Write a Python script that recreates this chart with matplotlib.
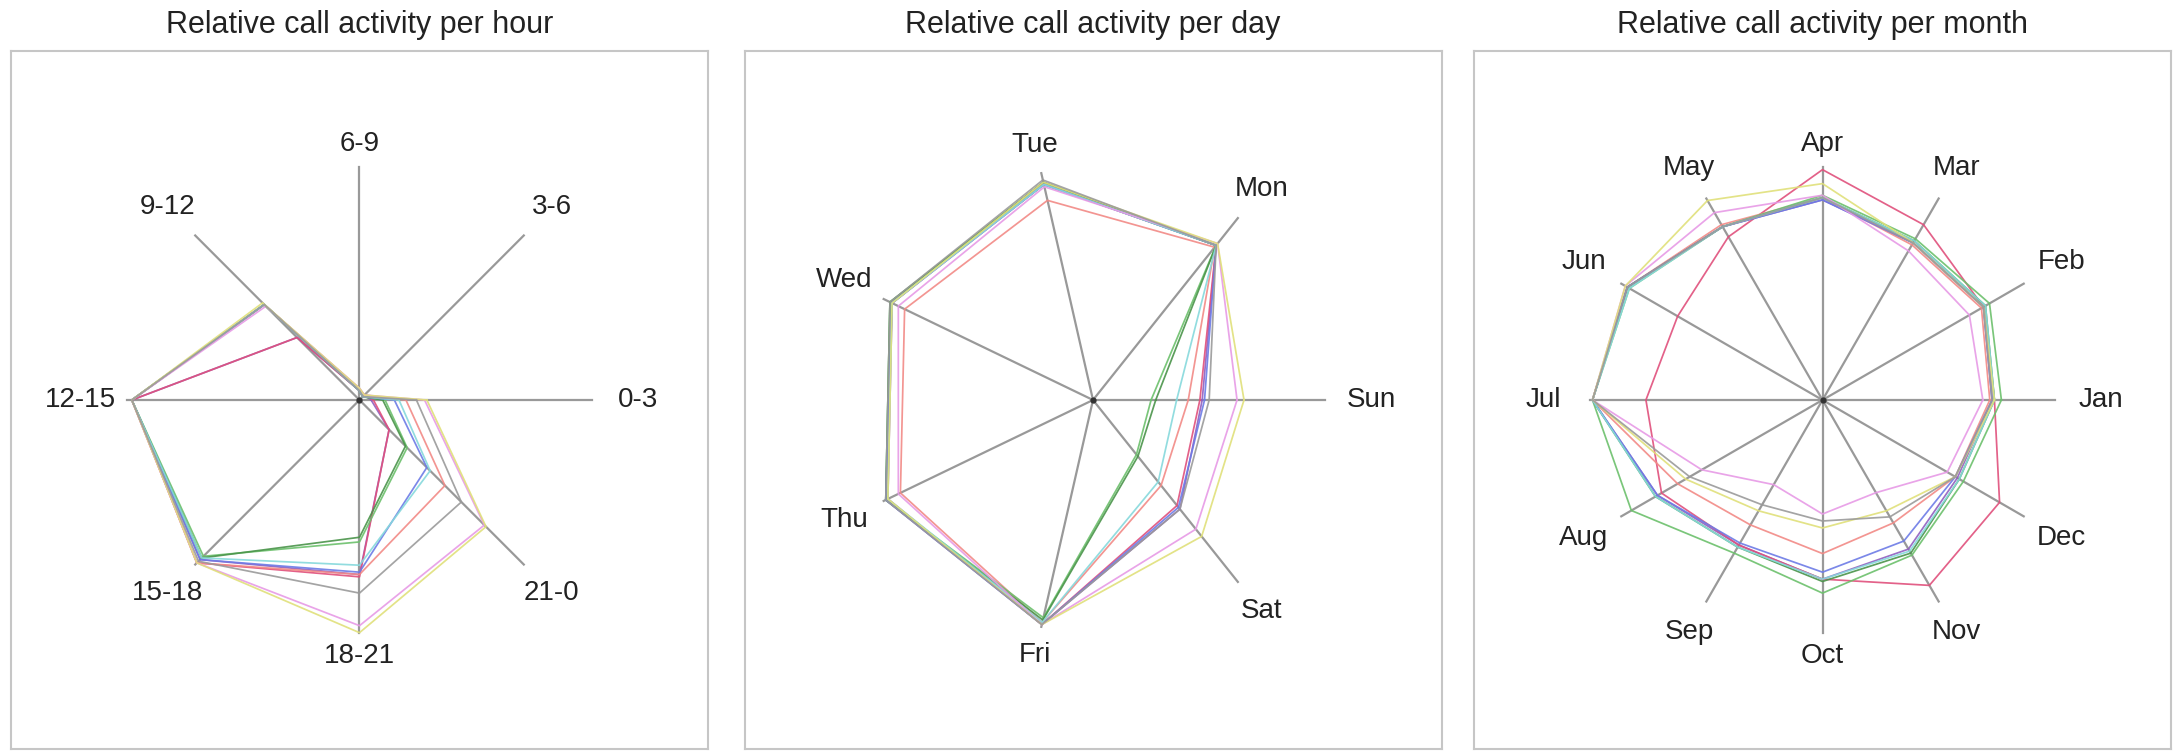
import matplotlib.pyplot as plt
import numpy as np

plt.rcParams['font.family'] = ['Liberation Sans', 'DejaVu Sans']

# axis labels (counter-clockwise, starting at the right)
hour_labels = ['0-3', '3-6', '6-9', '9-12', '12-15', '15-18', '18-21', '21-0']
day_labels = ['Sun', 'Mon', 'Tue', 'Wed', 'Thu', 'Fri', 'Sat']
month_labels = ['Jan', 'Feb', 'Mar', 'Apr', 'May', 'Jun',
                'Jul', 'Aug', 'Sep', 'Oct', 'Nov', 'Dec']

# one colour per series (same order in every chart)
series_colors = ['#9060c0', '#e0507c', '#f28a86', '#6cc06c', '#4a944a',
                 '#6d7be6', '#86d9dc', '#e79ae6', '#e0e07a', '#9a9a9a']

# relative activity, series x axis
hour_values = [
    [0.05, 0.03, 0.04, 0.38, 0.98, 0.97, 0.75, 0.18],
    [0.06, 0.03, 0.04, 0.38, 0.98, 0.99, 0.76, 0.18],
    [0.20, 0.03, 0.05, 0.58, 0.98, 0.99, 0.75, 0.52],
    [0.11, 0.02, 0.04, 0.58, 0.98, 0.95, 0.61, 0.29],
    [0.10, 0.02, 0.04, 0.58, 0.98, 0.96, 0.59, 0.28],
    [0.15, 0.02, 0.04, 0.58, 0.98, 0.97, 0.74, 0.41],
    [0.17, 0.02, 0.04, 0.58, 0.98, 0.96, 0.71, 0.43],
    [0.28, 0.03, 0.05, 0.57, 0.98, 0.99, 0.97, 0.76],
    [0.29, 0.03, 0.05, 0.59, 0.98, 0.99, 1.00, 0.77],
    [0.245, 0.02, 0.04, 0.58, 0.98, 0.98, 0.83, 0.62],
]

day_values = [
    [0.47, 0.85, 0.96, 0.96, 0.99, 0.99, 0.60],
    [0.46, 0.85, 0.95, 0.96, 0.98, 0.99, 0.58],
    [0.41, 0.84, 0.88, 0.90, 0.92, 0.98, 0.47],
    [0.25, 0.85, 0.95, 0.97, 0.99, 0.96, 0.30],
    [0.27, 0.85, 0.96, 0.97, 0.99, 0.97, 0.31],
    [0.48, 0.85, 0.95, 0.96, 0.99, 0.99, 0.59],
    [0.36, 0.85, 0.95, 0.96, 0.98, 0.98, 0.45],
    [0.62, 0.86, 0.94, 0.93, 0.93, 0.99, 0.71],
    [0.65, 0.86, 0.96, 0.96, 0.98, 0.99, 0.75],
    [0.50, 0.85, 0.97, 0.97, 0.99, 0.99, 0.60],
]

month_values = [
    [0.73, 0.80, 0.78, 0.86, 0.86, 0.97, 0.99, 0.82, 0.72, 0.77, 0.74, 0.67],
    [0.74, 0.80, 0.87, 0.99, 0.81, 0.72, 0.76, 0.80, 0.72, 0.77, 0.92, 0.88],
    [0.72, 0.79, 0.77, 0.87, 0.87, 0.97, 0.99, 0.72, 0.62, 0.66, 0.61, 0.66],
    [0.77, 0.83, 0.80, 0.88, 0.86, 0.96, 0.99, 0.95, 0.76, 0.83, 0.77, 0.70],
    [0.74, 0.81, 0.79, 0.87, 0.86, 0.97, 0.99, 0.83, 0.73, 0.78, 0.76, 0.68],
    [0.73, 0.80, 0.78, 0.86, 0.86, 0.97, 0.99, 0.82, 0.71, 0.74, 0.70, 0.66],
    [0.74, 0.81, 0.79, 0.87, 0.86, 0.96, 0.99, 0.83, 0.73, 0.77, 0.75, 0.68],
    [0.69, 0.73, 0.74, 0.88, 0.93, 0.98, 0.99, 0.60, 0.42, 0.49, 0.46, 0.62],
    [0.74, 0.80, 0.78, 0.93, 0.99, 0.98, 0.99, 0.68, 0.55, 0.55, 0.55, 0.66],
    [0.73, 0.80, 0.78, 0.87, 0.86, 0.97, 0.99, 0.66, 0.52, 0.52, 0.58, 0.66],
]

W, H = 2178, 751
fig = plt.figure(figsize=(W / 100, H / 100), dpi=100)


def radar(left, labels, values, title):
    ax = fig.add_axes([left / W, 2 / H, 697 / W, 698 / H])
    n = len(labels)
    ang = np.arange(n) * 2 * np.pi / n
    for a in ang:
        ax.plot([0, np.cos(a)], [0, np.sin(a)], color='#999999', lw=1.6, zorder=1)
    closed = np.append(ang, ang[0])
    for vals, c in zip(values, series_colors):
        v = np.append(vals, vals[0])
        ax.plot(v * np.cos(closed), v * np.sin(closed), color=c, lw=1.25,
                alpha=0.9, zorder=2)
    ax.plot(0, 0, 'o', color='#333333', ms=3.5, zorder=3)
    for a, lab in zip(ang, labels):
        r = 1.1 + 0.1 * abs(np.cos(a))
        ax.text(r * np.cos(a), r * np.sin(a), lab, ha='center', va='center',
                fontsize=20, color='#222222')
    ax.set_xlim(-1.5, 1.5)
    ax.set_ylim(-1.5, 1.5)
    ax.set_xticks([])
    ax.set_yticks([])
    for s in ax.spines.values():
        s.set_color('#c6c6c6')
        s.set_linewidth(1.5)
    fig.text((left + 348.5) / W, 1 - 25 / H, title, ha='center', va='center',
             fontsize=22, color='#222222')


radar(11, hour_labels, hour_values, 'Relative call activity per hour')
radar(744.5, day_labels, day_values, 'Relative call activity per day')
radar(1474, month_labels, month_values, 'Relative call activity per month')

fig.savefig('out.png', dpi=100, facecolor='white')
